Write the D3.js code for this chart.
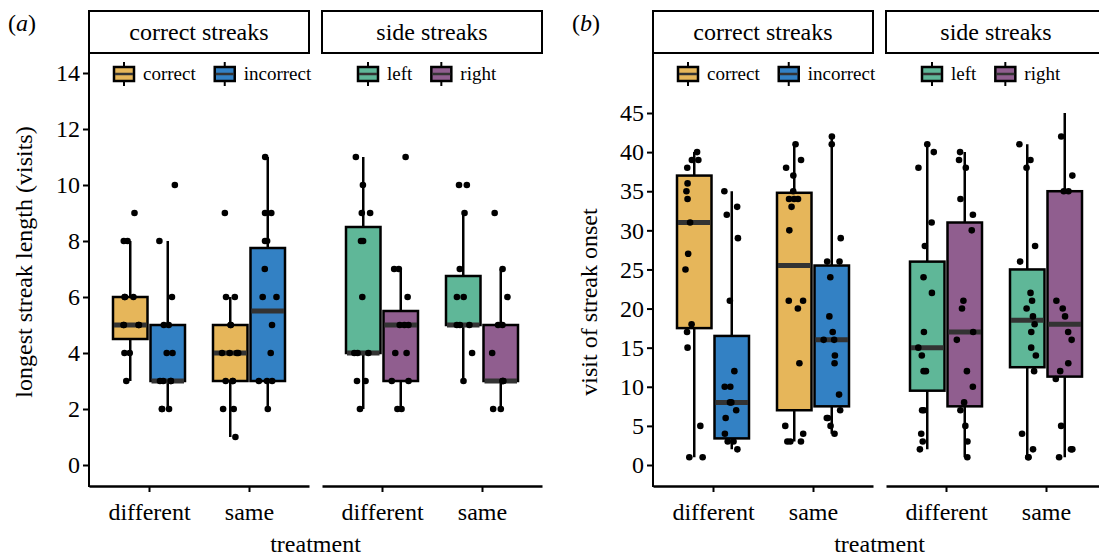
<!DOCTYPE html>
<html>
<head>
  <meta charset="utf-8">
  <title>streaks</title>
  <script src="https://d3js.org/d3.v7.min.js"></script>
  <style>
    body { margin: 0; background: #fff; }
    text { font-family: "Liberation Serif", "Times New Roman", Times, serif; fill: #000; }
  </style>
</head>
<body>
  <svg width="1099" height="556" id="mainsvg"></svg>
  <script>
    const treatments = ['different', 'same'];
    const facetTitles = ['correct streaks', 'side streaks'];
    const facetGroups = [['correct', 'incorrect'], ['left', 'right']];
    const groupColors = { correct: '#e6b65a', incorrect: '#3381c4', left: '#5fb798', right: '#905e8f' };

    // box stats per treatment: [lower whisker, q1, median, q3, upper whisker]
    const lenCorrectBox   = [[3, 4.5, 5, 6, 8], [1, 3, 4, 5, 6]];
    const lenIncorrectBox = [[2, 3, 3, 5, 8], [2, 3, 5.5, 7.75, 11]];
    const lenLeftBox      = [[2, 4, 4, 8.5, 11], [3, 5, 5, 6.75, 9]];
    const lenRightBox     = [[2, 3, 5, 5.5, 7], [2, 3, 3, 5, 7]];

    const lenCorrectPts   = [[9, 8, 8, 6, 6, 6, 5, 5, 5, 5, 4, 4, 3],
                             [9, 6, 6, 5, 5, 4, 4, 4, 4, 3, 3, 3, 2, 2, 1]];
    const lenIncorrectPts = [[10, 8, 6, 5, 5, 4, 4, 3, 3, 3, 3, 2, 2, 2],
                             [11, 9, 9, 8, 8, 7, 6, 6, 5, 4, 3, 3, 3, 2]];
    const lenLeftPts      = [[11, 10, 9, 9, 8, 8, 6, 4, 4, 4, 3, 3, 2],
                             [10, 10, 9, 7, 6, 6, 5, 5, 5, 4, 3]];
    const lenRightPts     = [[11, 7, 7, 6, 5, 5, 5, 4, 4, 3, 3, 2, 2],
                             [9, 7, 6, 5, 5, 4, 3, 3, 3, 2, 2]];

    const onsetCorrectBox   = [[1, 17.5, 31, 37, 40], [3, 7, 25.5, 34.8, 41]];
    const onsetIncorrectBox = [[2, 3.4, 8, 16.5, 35], [4, 7.5, 16, 25.5, 42]];
    const onsetLeftBox      = [[2, 9.5, 15, 26, 41], [1, 12.5, 18.5, 25, 41]];
    const onsetRightBox     = [[1, 7.5, 17, 31, 40], [1, 11.3, 18, 35, 45]];

    const onsetCorrectPts   = [[40, 39, 39, 38, 36, 35, 34, 31, 27, 25, 18, 17, 15, 5, 1, 1],
                               [41, 39, 38, 37, 35, 34, 34, 34, 33, 30, 21, 21, 20, 13, 5, 4, 3, 3, 3]];
    const onsetIncorrectPts = [[35, 33, 32, 29, 21, 12, 10, 10, 8, 8, 7, 6, 4, 3, 3, 2],
                               [42, 41, 29, 26, 26, 24, 19, 17, 16, 16, 14, 13, 9, 7, 6, 6, 5, 4]];
    const onsetLeftPts      = [[41, 40, 38, 31, 28, 24, 22, 17, 15, 14, 12, 12, 7, 7, 4, 3, 2],
                               [41, 39, 38, 28, 26, 22, 21, 20, 19, 18, 17, 15, 14, 12, 4, 2, 1, 1]];
    const onsetRightPts     = [[40, 39, 38, 34, 32, 30, 21, 20, 17, 16, 12, 10, 8, 7, 5, 3, 1],
                               [42, 37, 35, 35, 21, 20, 19, 17, 16, 13, 12, 11, 5, 2, 2, 1]];

    const lenTicks = [0, 2, 4, 6, 8, 10, 12, 14];
    const onsetTicks = [0, 5, 10, 15, 20, 25, 30, 35, 40, 45];

    let svg = d3.select('#mainsvg');
    let jitter = d3.randomUniform.source(d3.randomLcg(0.42))(-9, 9);

    const panels = [
      { tag: 'a', left: 89, ytitle: 'longest streak length (visits)', titleX: 32, titleY: 262,
        ticks: lenTicks, yTop: 14, yTopPx: 73,
        box: { correct: lenCorrectBox, incorrect: lenIncorrectBox, left: lenLeftBox, right: lenRightBox },
        pts: { correct: lenCorrectPts, incorrect: lenIncorrectPts, left: lenLeftPts, right: lenRightPts } },
      { tag: 'b', left: 653, ytitle: 'visit of streak onset', titleX: 597, titleY: 302,
        ticks: onsetTicks, yTop: 45, yTopPx: 113,
        box: { correct: onsetCorrectBox, incorrect: onsetIncorrectBox, left: onsetLeftBox, right: onsetRightBox },
        pts: { correct: onsetCorrectPts, incorrect: onsetIncorrectPts, left: onsetLeftPts, right: onsetRightPts } }
    ];

    const panelTop = 53, panelBottom = 486, facetW = 220, facetGap = 13;
    const bigFont = 24;

    panels.forEach((p, pi) => {
      let g = svg.append('g');
      let y = d3.scaleLinear().domain([0, p.yTop]).range([465, p.yTopPx]);

      // panel tag
      let tag = g.append('text').attr('x', p.left - 81).attr('y', 31).attr('font-size', bigFont);
      tag.append('tspan').text('(');
      tag.append('tspan').attr('font-style', 'italic').text(p.tag);
      tag.append('tspan').text(')');

      // y axis
      let yAxis = g.append('g').attr('transform', `translate(${p.left},0)`)
        .call(d3.axisLeft(y).tickValues(p.ticks).tickSize(6).tickPadding(3));
      yAxis.select('.domain').remove();
      yAxis.selectAll('line').attr('stroke-width', 2);
      yAxis.selectAll('text').attr('font-size', bigFont);
      g.append('line').attr('x1', p.left).attr('x2', p.left)
        .attr('y1', panelTop).attr('y2', panelBottom + 1)
        .attr('stroke', 'black').attr('stroke-width', 2);

      g.append('text').attr('transform', `translate(${p.titleX},${p.titleY}) rotate(-90)`)
        .attr('text-anchor', 'middle').attr('font-size', bigFont).text(p.ytitle);

      g.append('text').attr('x', p.left + facetW + facetGap / 2).attr('y', 552)
        .attr('text-anchor', 'middle').attr('font-size', bigFont).text('treatment');

      facetTitles.forEach((title, fi) => {
        let x0 = p.left + fi * (facetW + facetGap);
        let groups = facetGroups[fi];
        let x = d3.scalePoint().domain(treatments).range([x0, x0 + facetW]).padding(0.6);
        let sub = d3.scaleBand().domain(groups).range([-39, 39]).padding(0.08);
        let bw = sub.bandwidth();

        // strip
        g.append('rect').attr('x', x0).attr('y', 11).attr('width', facetW).attr('height', 42)
          .attr('fill', 'white').attr('stroke', 'black').attr('stroke-width', 2);
        g.append('text').attr('x', x0 + facetW / 2).attr('y', 40)
          .attr('text-anchor', 'middle').attr('font-size', bigFont).text(title);

        // x axis
        let xAxis = g.append('g').attr('transform', `translate(0,${panelBottom})`)
          .call(d3.axisBottom(x).tickSize(6).tickSizeOuter(0).tickPadding(11));
        xAxis.select('.domain').attr('stroke-width', 2.5);
        xAxis.selectAll('line').attr('stroke-width', 2);
        xAxis.selectAll('text').attr('font-size', bigFont);

        let clipId = `clip-${pi}-${fi}`;
        svg.append('clipPath').attr('id', clipId).append('rect')
          .attr('x', x0).attr('y', panelTop).attr('width', facetW).attr('height', panelBottom - panelTop);
        let body = g.append('g').attr('clip-path', `url(#${clipId})`);

        groups.forEach(grp => {
          treatments.forEach((t, ti) => {
            let [lo, q1, med, q3, hi] = p.box[grp][ti];
            let cx = x(t) + sub(grp) + bw / 2;
            body.append('line').attr('x1', cx).attr('x2', cx).attr('y1', y(lo)).attr('y2', y(hi))
              .attr('stroke', 'black').attr('stroke-width', 2.5);
            body.append('rect').attr('x', cx - bw / 2).attr('y', y(q3))
              .attr('width', bw).attr('height', y(q1) - y(q3))
              .attr('fill', groupColors[grp]).attr('stroke', 'black').attr('stroke-width', 2.5);
            body.append('line').attr('x1', cx - bw / 2 + 1).attr('x2', cx + bw / 2 - 1)
              .attr('y1', y(med)).attr('y2', y(med))
              .attr('stroke', '#333').attr('stroke-width', 5);
          });
        });

        groups.forEach(grp => {
          treatments.forEach((t, ti) => {
            let cx = x(t) + sub(grp) + bw / 2;
            body.selectAll(null).data(p.pts[grp][ti]).enter().append('circle')
              .attr('cx', () => cx + jitter())
              .attr('cy', d => y(d))
              .attr('r', 3.3)
              .attr('fill', 'black');
          });
        });

        // legend
        let lx = x0 + (fi === 0 ? 24 : 35);
        groups.forEach(grp => {
          let key = g.append('g').attr('transform', `translate(${lx},74)`);
          key.append('line').attr('x1', 11).attr('x2', 11).attr('y1', -12).attr('y2', 12)
            .attr('stroke', 'black').attr('stroke-width', 2);
          key.append('rect').attr('x', 1).attr('y', -7).attr('width', 20).attr('height', 14)
            .attr('fill', groupColors[grp]).attr('stroke', 'black').attr('stroke-width', 2.5);
          key.append('line').attr('x1', 2).attr('x2', 20).attr('y1', 0).attr('y2', 0)
            .attr('stroke', '#333').attr('stroke-width', 2.5);
          let lt = key.append('text').attr('x', 30).attr('y', 6).attr('font-size', 19).text(grp);
          lx += 30 + lt.node().getComputedTextLength() + 18;
        });
      });
    });
  </script>
</body>
</html>
